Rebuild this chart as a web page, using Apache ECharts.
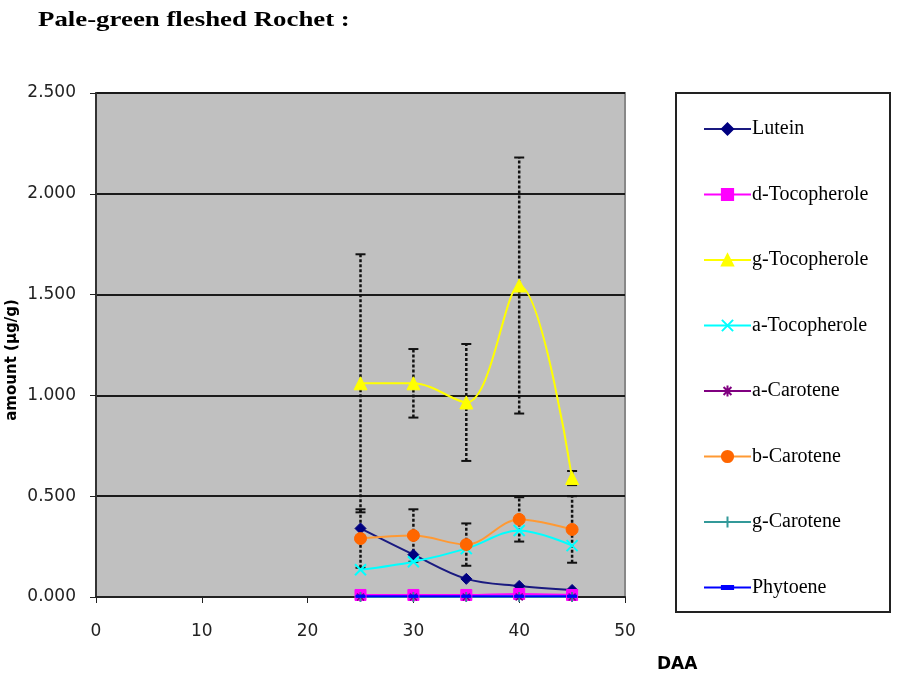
<!DOCTYPE html>
<html>
<head>
<meta charset="utf-8">
<script src="https://cdn.jsdelivr.net/npm/echarts@6/dist/echarts.min.js"></script>
<style>
html,body{margin:0;padding:0;background:#fff;}
#c{width:897px;height:674px;}
</style>
</head>
<body>
<div id="c"></div>
<script>
// ---- data ----
const DAA = [25, 30, 35, 40, 45];
const xTicks = [0, 10, 20, 30, 40, 50];
const yTicks = ['0.000', '0.500', '1.000', '1.500', '2.000', '2.500'];
const names = ['Lutein', 'd-Tocopherole', 'g-Tocopherole', 'a-Tocopherole', 'a-Carotene', 'b-Carotene', 'g-Carotene', 'Phytoene'];
const lutein = [0.34, 0.21, 0.09, 0.055, 0.035];
const dToco = [0.01, 0.01, 0.01, 0.015, 0.01];
const gToco = [1.06, 1.06, 0.965, 1.545, 0.59];
const aToco = [0.135, 0.175, 0.24, 0.33, 0.255];
const aCarot = [0, 0, 0, 0, 0];
const bCarot = [0.29, 0.305, 0.26, 0.385, 0.335];
const gCarot = [0, 0, 0, 0, 0];
const phyto = [0.004, 0.004, 0.004, 0.004, 0.004];
const gTocoErr = [0.64, 0.17, 0.29, 0.635, 0.035];
const bCarotErr = [0.145, 0.13, 0.105, 0.11, 0.165];

const pairs = arr => DAA.map((x, i) => [x, arr[i]]);
const errPairs = (arr, err) => DAA.map((x, i) => [x, arr[i] - err[i], arr[i] + err[i]]);

const chart = echarts.init(document.getElementById('c'), null, {renderer: 'canvas'});

function lineSeries(name, data, lineColor, symbol, symbolSize, markColor, opts) {
  return Object.assign({
    name: name, type: 'line', data: pairs(data), smooth: 0.35,
    symbol: symbol, symbolSize: symbolSize, z: 5,
    lineStyle: {color: lineColor, width: 2},
    itemStyle: {color: markColor, borderColor: markColor, borderWidth: 1},
    emphasis: {disabled: true}
  }, opts || {});
}

function errSeries(data, err) {
  return {
    type: 'custom', z: 3, silent: true,
    data: errPairs(data, err),
    renderItem: function (params, api) {
      const x = api.value(0);
      const lo = api.coord([x, api.value(1)]);
      const hi = api.coord([x, api.value(2)]);
      const w = 5;
      const st = {stroke: '#111', lineWidth: 2.5, lineDash: [3, 2]};
      const cap = {stroke: '#111', lineWidth: 2};
      return {
        type: 'group',
        children: [
          {type: 'line', shape: {x1: lo[0], y1: lo[1], x2: hi[0], y2: hi[1]}, style: st},
          {type: 'line', shape: {x1: hi[0] - w, y1: hi[1], x2: hi[0] + w, y2: hi[1]}, style: cap},
          {type: 'line', shape: {x1: lo[0] - w, y1: lo[1], x2: lo[0] + w, y2: lo[1]}, style: cap}
        ]
      };
    }
  };
}

const option = {
  animation: false,
  backgroundColor: '#ffffff',
  graphic: [
    {type: 'text', left: 38, top: 9, scaleX: 1.22,
     style: {text: 'Pale-green fleshed Rochet :', fontFamily: 'Liberation Serif', fontWeight: 'bold', fontSize: 22, fill: '#000'}},
    {type: 'text', x: 12, y: 360, rotation: Math.PI / 2,
     style: {text: 'amount (µg/g)', fontFamily: 'DejaVu Sans', fontWeight: 'bold', fontSize: 15, fill: '#000',
             align: 'center', verticalAlign: 'middle'}},
    {type: 'rect', shape: {x: 676, y: 93, width: 214, height: 519},
     style: {fill: '#fff', stroke: '#222', lineWidth: 2}, z: -1}
  ],
  legend: {
    orient: 'vertical', left: 698, top: 114,
    itemWidth: 47, itemHeight: 14, itemGap: 45.5,
    selectedMode: false,
    data: names,
    textStyle: {fontFamily: 'Liberation Serif', fontSize: 20, color: '#000', padding: [0, 0, 0, -4]}
  },
  grid: {left: 96, right: 272, top: 93, bottom: 77, show: true, outerBoundsMode: 'none', containLabel: false,
         backgroundColor: '#c0c0c0', borderColor: '#888', borderWidth: 2},
  xAxis: {
    type: 'value', min: 0, max: 50, interval: 10,
    axisLine: {show: true, onZero: false, lineStyle: {color: '#222', width: 2}},
    axisTick: {show: true, length: 6, lineStyle: {color: '#222'}},
    splitLine: {show: false},
    axisLabel: {margin: 26, fontFamily: 'DejaVu Sans', fontSize: 17, color: '#222',
                formatter: v => String(xTicks[Math.round(v / 10)])},
    name: 'DAA', nameLocation: 'end', nameGap: 0, nameMoveOverlap: false,
    nameTextStyle: {fontFamily: 'DejaVu Sans', fontWeight: 'bold', fontSize: 17, color: '#000',
                    padding: [59, 0, 0, 32], verticalAlign: 'top', align: 'left'}
  },
  yAxis: {
    type: 'value', min: 0, max: 2.5, interval: 0.5,
    axisLine: {show: true, lineStyle: {color: '#333', width: 2}},
    axisTick: {show: true, length: 6, lineStyle: {color: '#222'}},
    splitLine: {show: true, lineStyle: {color: '#1a1a1a', width: 2}},
    axisLabel: {margin: 20, fontFamily: 'DejaVu Sans', fontSize: 17, color: '#222',
                formatter: v => yTicks[Math.round(v / 0.5)]}
  },
  series: [
    errSeries(gToco, gTocoErr),
    errSeries(bCarot, bCarotErr),
    lineSeries('Lutein', lutein, '#1a1a80', 'diamond', 11, '#000080'),
    lineSeries('d-Tocopherole', dToco, '#ff00ff', 'rect', 11, '#ff00ff'),
    lineSeries('g-Tocopherole', gToco, '#ffff00', 'triangle', 13, '#ffff00'),
    lineSeries('a-Tocopherole', aToco, '#00ffff', 'path://M0,0L10,10M10,0L0,10', 11, '#00ffff',
               {itemStyle: {color: '#00ffff', borderColor: '#00ffff', borderWidth: 2}}),
    lineSeries('a-Carotene', aCarot, '#800080', 'path://M5,0L5,10M0,5L10,5M1.5,1.5L8.5,8.5M8.5,1.5L1.5,8.5', 10, '#800080',
               {itemStyle: {color: '#800080', borderColor: '#800080', borderWidth: 1.5}}),
    lineSeries('b-Carotene', bCarot, '#ff9933', 'circle', 12, '#ff6600'),
    lineSeries('g-Carotene', gCarot, '#339999', 'path://M5,0L5,10M0,5L10,5', 10, '#339999',
               {itemStyle: {color: '#339999', borderColor: '#339999', borderWidth: 1.5}}),
    lineSeries('Phytoene', phyto, '#0000ff', 'path://M0,0M0,8M0,3L8,3L8,5L0,5Z', 9, '#0000ff')
  ]
};
chart.setOption(option);
</script>
</body>
</html>
